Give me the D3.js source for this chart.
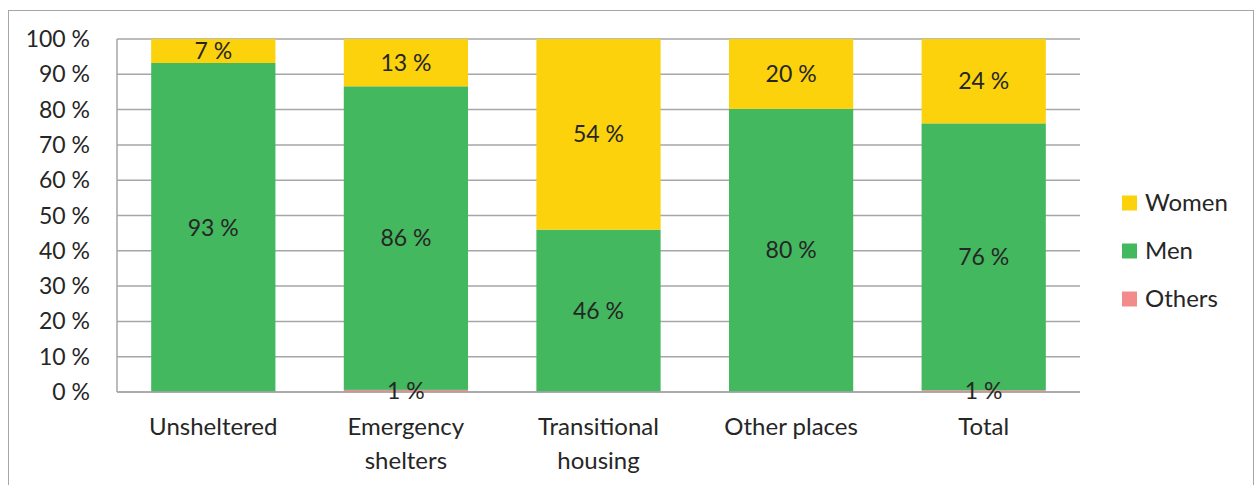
<!DOCTYPE html>
<html>
<head>
<meta charset="utf-8">
<script src="https://cdn.jsdelivr.net/npm/d3@7"></script>
<style>
  body { margin: 0; background: #fff; }
  text { font-family: Lato, "Open Sans", sans-serif; fill: #262626; }
</style>
</head>
<body>
<svg id="chart"></svg>
<script>
// data (percent of each category)
const categories = [["Unsheltered"], ["Emergency", "shelters"], ["Transitional", "housing"], ["Other places"], ["Total"]];
const others = [0, 0.6, 0, 0, 0.5];
const men = [93.2, 86.0, 46.0, 80.2, 75.6];
const women = [6.8, 13.4, 54.0, 19.8, 23.9];
const seriesNames = ["Others", "Men", "Women"];
const seriesColors = ["#f48b8b", "#43b85f", "#fbd20b"];
const yTicks = [0, 10, 20, 30, 40, 50, 60, 70, 80, 90, 100];

const width = 1256, height = 485;
const margin = {left: 117, top: 39, right: 176, bottom: 93};
const numSize = 23, wordSize = 24;

const svg = d3.select("#chart").attr("width", width).attr("height", height);

// outer chart frame
svg.append("rect")
  .attr("x", 8.5).attr("y", 10.5)
  .attr("width", 1245).attr("height", 490)
  .attr("fill", "none").attr("stroke", "#a6a6a6").attr("stroke-width", 1);

const x = d3.scaleBand()
  .domain(d3.range(categories.length))
  .range([margin.left, width - margin.right])
  .paddingInner(0.355).paddingOuter(0.1775);

const y = d3.scaleLinear()
  .domain([0, 100])
  .range([height - margin.bottom, margin.top]);

// gridlines
svg.append("g")
  .selectAll("line")
  .data(yTicks)
  .join("line")
  .attr("x1", margin.left).attr("x2", width - margin.right)
  .attr("y1", d => y(d)).attr("y2", d => y(d))
  .attr("stroke", "#a6a6a6").attr("stroke-width", 1.5);

// left axis line
svg.append("line")
  .attr("x1", margin.left).attr("x2", margin.left)
  .attr("y1", y(100)).attr("y2", y(0))
  .attr("stroke", "#a6a6a6").attr("stroke-width", 1.5);

// y labels
svg.append("g")
  .selectAll("text")
  .data(yTicks)
  .join("text")
  .attr("x", 90).attr("y", d => y(d))
  .attr("dy", "0.35em")
  .attr("text-anchor", "end")
  .attr("font-size", numSize)
  .text(d => d + " %");

const table = categories.map((c, i) => ({i: i, Others: others[i], Men: men[i], Women: women[i]}));
const stacked = d3.stack().keys(seriesNames)(table);

const layers = svg.append("g")
  .selectAll("g")
  .data(stacked)
  .join("g")
  .attr("fill", (d, k) => seriesColors[k]);

layers.selectAll("rect")
  .data(d => d)
  .join("rect")
  .attr("x", d => x(d.data.i))
  .attr("width", x.bandwidth())
  .attr("y", d => y(d[1]))
  .attr("height", d => y(d[0]) - y(d[1]));

// baseline drawn over bars
svg.append("line")
  .attr("x1", margin.left).attr("x2", width - margin.right)
  .attr("y1", y(0)).attr("y2", y(0))
  .attr("stroke", "#a6a6a6").attr("stroke-width", 1.5);

// data labels
const labels = svg.append("g");
stacked.forEach(s => {
  labels.selectAll(null)
    .data(s.filter(d => d[1] - d[0] > 0))
    .join("text")
    .attr("x", d => x(d.data.i) + x.bandwidth() / 2)
    .attr("y", d => y((d[0] + d[1]) / 2))
    .attr("dy", "0.35em")
    .attr("text-anchor", "middle")
    .attr("font-size", numSize)
    .text(d => Math.round(d[1] - d[0]) + " %");
});

// category labels
const cat = svg.append("g")
  .selectAll("text")
  .data(categories)
  .join("text")
  .attr("x", (d, i) => x(i) + x.bandwidth() / 2)
  .attr("y", 427)
  .attr("text-anchor", "middle")
  .attr("font-size", wordSize);
cat.selectAll("tspan")
  .data(d => d)
  .join("tspan")
  .attr("x", function() { return this.parentNode.getAttribute("x"); })
  .attr("dy", (d, j) => j === 0 ? "0.35em" : "1.38em")
  .text(d => d);

// legend
const legendOrder = [2, 1, 0];
const legend = svg.append("g")
  .selectAll("g")
  .data(legendOrder)
  .join("g")
  .attr("transform", (k, j) => `translate(1122, ${203 + j * 48})`);
legend.append("rect")
  .attr("x", 0).attr("y", -7.5)
  .attr("width", 15).attr("height", 15)
  .attr("fill", k => seriesColors[k]);
legend.append("text")
  .attr("x", 23).attr("y", 0)
  .attr("dy", "0.35em")
  .attr("font-size", wordSize)
  .text(k => seriesNames[k]);
</script>
</body>
</html>
